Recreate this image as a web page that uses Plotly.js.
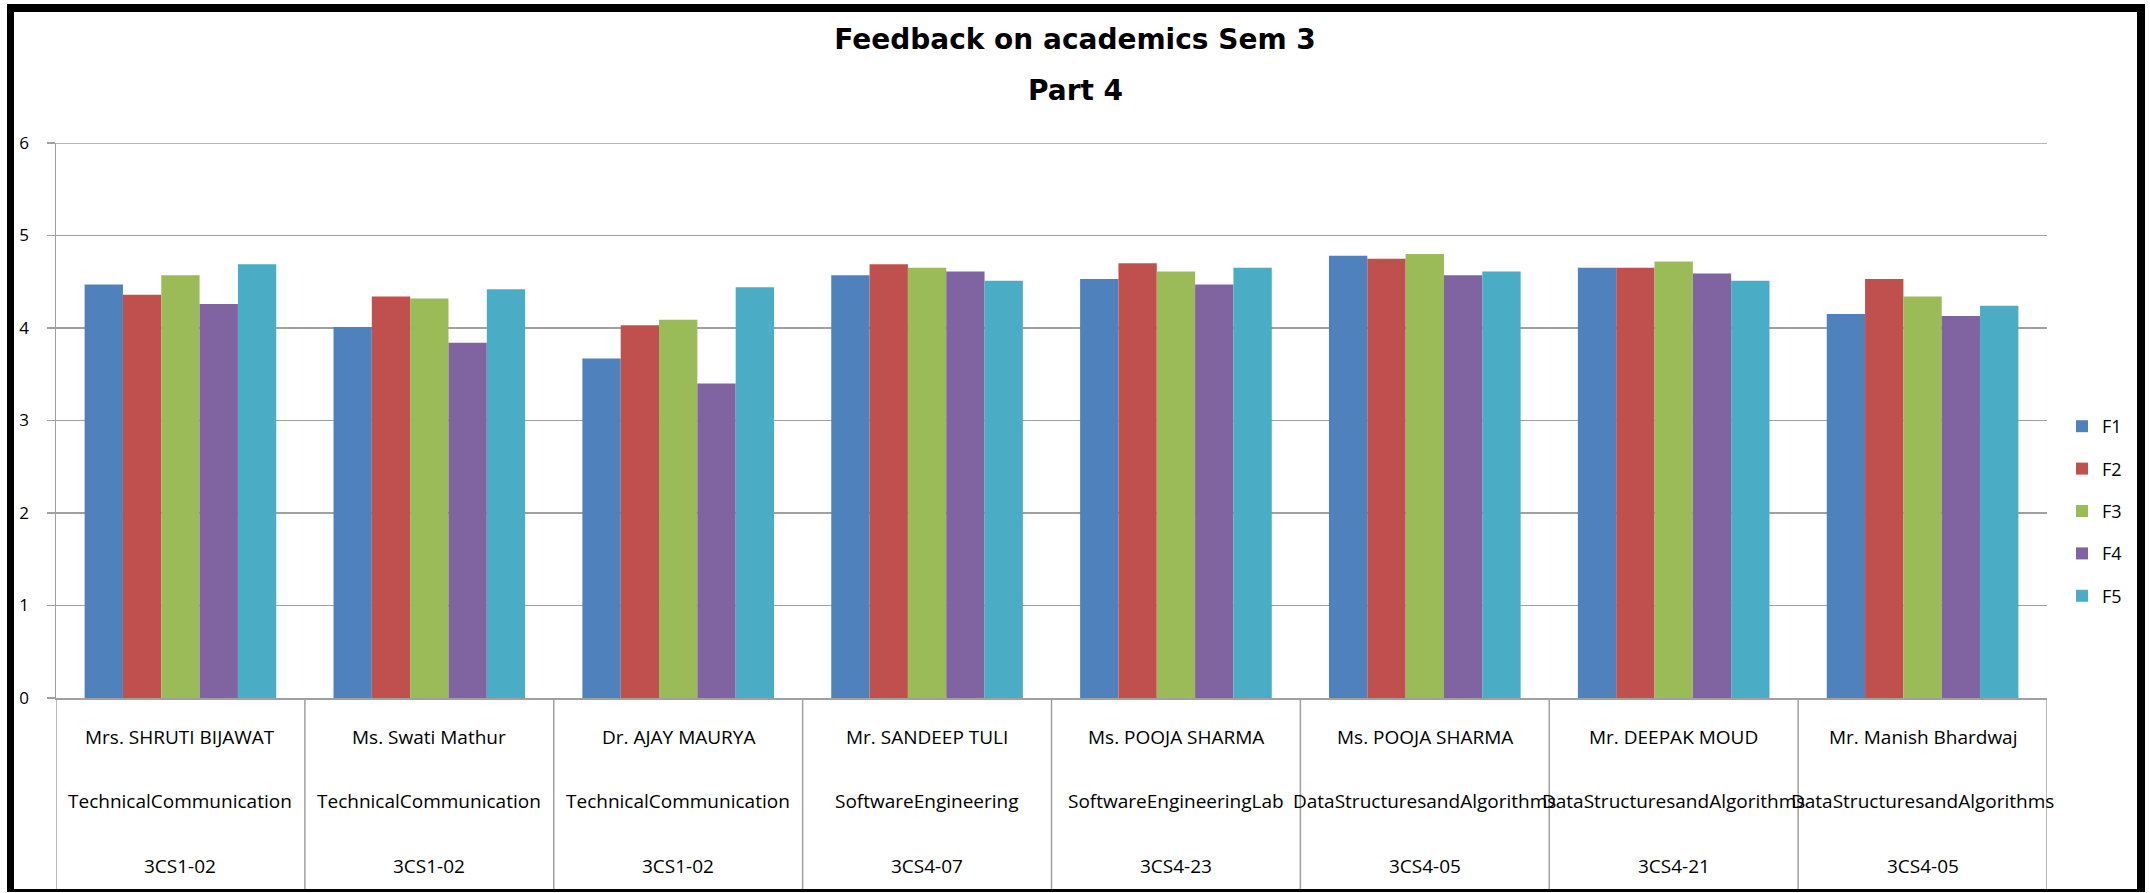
<!DOCTYPE html>
<html>
<head>
<meta charset="utf-8">
<script src="https://cdn.plot.ly/plotly-3.0.1.min.js"></script>
<style>
  html, body { margin: 0; padding: 0; background: #fff; }
  #chart { width: 2150px; height: 893px; }
</style>
</head>
<body>
<div id="chart"></div>
<script>
// teachers, subjects and course codes (one per group)
const teachers = ['Mrs. SHRUTI BIJAWAT', 'Ms. Swati Mathur', 'Dr. AJAY MAURYA', 'Mr. SANDEEP TULI',
                  'Ms. POOJA SHARMA', 'Ms. POOJA SHARMA', 'Mr. DEEPAK MOUD', 'Mr. Manish Bhardwaj'];
const subjects = ['TechnicalCommunication', 'TechnicalCommunication', 'TechnicalCommunication', 'SoftwareEngineering',
                  'SoftwareEngineeringLab', 'DataStructuresandAlgorithms', 'DataStructuresandAlgorithms', 'DataStructuresandAlgorithms'];
const codes = ['3CS1-02', '3CS1-02', '3CS1-02', '3CS4-07', '3CS4-23', '3CS4-05', '3CS4-21', '3CS4-05'];

const seriesNames = ['F1', 'F2', 'F3', 'F4', 'F5'];
const f1 = [4.47, 4.01, 3.67, 4.57, 4.53, 4.78, 4.65, 4.15];
const f2 = [4.36, 4.34, 4.03, 4.69, 4.70, 4.75, 4.65, 4.53];
const f3 = [4.57, 4.32, 4.09, 4.65, 4.61, 4.80, 4.72, 4.34];
const f4 = [4.26, 3.84, 3.40, 4.61, 4.47, 4.57, 4.59, 4.13];
const f5 = [4.69, 4.42, 4.44, 4.51, 4.65, 4.61, 4.51, 4.24];
const colors = ['#4F81BD', '#C0504D', '#9BBB59', '#8064A2', '#4BACC6'];

const yTicks = [0, 1, 2, 3, 4, 5, 6];

// one unique category key per group; the three label rows are drawn below the axis
const categories = teachers.map((t, i) => t + ' | ' + subjects[i] + ' | ' + codes[i]);

// plot area in pixels
const L = 56, R = 2047, T = 143, B = 698;
const W = R - L, H = B - T;
const px = p => (p - L) / W;
const py = p => (B - p) / H;

const FONT = 'Open Sans, Liberation Sans, sans-serif';
const TITLE_FONT = 'DejaVu Sans, Open Sans, sans-serif';
const GRID = '#a0a0a0';

const traces = [f1, f2, f3, f4, f5].map((vals, k) => ({
    x: categories,
    y: vals,
    type: 'bar',
    name: seriesNames[k],
    legendgroup: seriesNames[k],
    marker: {color: colors[k], line: {width: 0}},
    hoverinfo: 'y+name'
}));

const shapes = [];
// top gridline (plotly drops the one on the plot edge)
shapes.push({
    type: 'line', xref: 'paper', yref: 'y',
    x0: 0, x1: 1, y0: yTicks[yTicks.length - 1], y1: yTicks[yTicks.length - 1],
    line: {color: GRID, width: 1.5}
});
// table of category cells below the axis
for (let i = 0; i <= categories.length; i++) {
    shapes.push({
        type: 'line', xref: 'x', yref: 'paper',
        x0: i - 0.5, x1: i - 0.5, y0: 0, y1: py(889),
        line: {color: GRID, width: 1.5}
    });
}
// thick black frame round the chart
const frame = [[7, 4, 2145, 12], [7, 4, 14, 892], [2137, 4, 2145, 892], [7, 889, 2145, 892]];
frame.forEach(f => shapes.push({
    type: 'rect', xref: 'paper', yref: 'paper',
    x0: px(f[0]), x1: px(f[2]), y0: py(f[3]), y1: py(f[1]),
    fillcolor: '#000', line: {width: 0}, layer: 'above'
}));

const annotations = [{
    text: '<b>Part 4</b>',
    xref: 'paper', yref: 'paper', x: px(1075), y: py(90),
    xanchor: 'center', yanchor: 'middle', showarrow: false,
    font: {family: TITLE_FONT, size: 28, color: '#000'}
}];
const rows = [[teachers, 737], [subjects, 801], [codes, 866]];
rows.forEach(([texts, yPix]) => {
    texts.forEach((txt, i) => annotations.push({
        text: txt,
        xref: 'x', yref: 'paper', x: categories[i], y: py(yPix),
        xanchor: 'center', yanchor: 'middle', showarrow: false,
        font: {family: FONT, size: 19, color: '#000'}
    }));
});

const layout = {
    width: 2150,
    height: 893,
    margin: {l: L, r: 2150 - R, t: T, b: 893 - B, pad: 0},
    paper_bgcolor: '#fff',
    plot_bgcolor: '#fff',
    font: {family: FONT, color: '#000', size: 17},
    title: {
        text: '<b>Feedback on academics Sem 3</b>',
        font: {family: TITLE_FONT, size: 28, color: '#000'},
        xref: 'container', x: 0.5, xanchor: 'center',
        yref: 'container', y: 1 - 39 / 893, yanchor: 'middle'
    },
    annotations: annotations,
    barmode: 'group',
    bargap: 0.23,
    bargroupgap: 0,
    xaxis: {
        type: 'category',
        range: [-0.5, categories.length - 0.5],
        showline: true, linecolor: GRID, linewidth: 1.5,
        showgrid: false, zeroline: false,
        ticks: '',
        showticklabels: false
    },
    yaxis: {
        range: [0, 6],
        tickvals: yTicks,
        ticks: 'outside', ticklen: 8, tickwidth: 1.5, tickcolor: GRID,
        showline: true, linecolor: GRID, linewidth: 1.5,
        showgrid: true, gridcolor: GRID, gridwidth: 1.5,
        zeroline: false,
        ticklabelstandoff: 14,
        tickfont: {family: FONT, size: 17, color: '#000'}
    },
    showlegend: true,
    legend: {
        x: px(2062), xanchor: 'left',
        y: py(511), yanchor: 'middle',
        font: {family: FONT, size: 18, color: '#000'},
        tracegroupgap: 16,
        itemwidth: 30,
        bgcolor: 'rgba(0,0,0,0)'
    },
    shapes: shapes
};

Plotly.newPlot('chart', traces, layout, {displayModeBar: false, staticPlot: true});
</script>
</body>
</html>
